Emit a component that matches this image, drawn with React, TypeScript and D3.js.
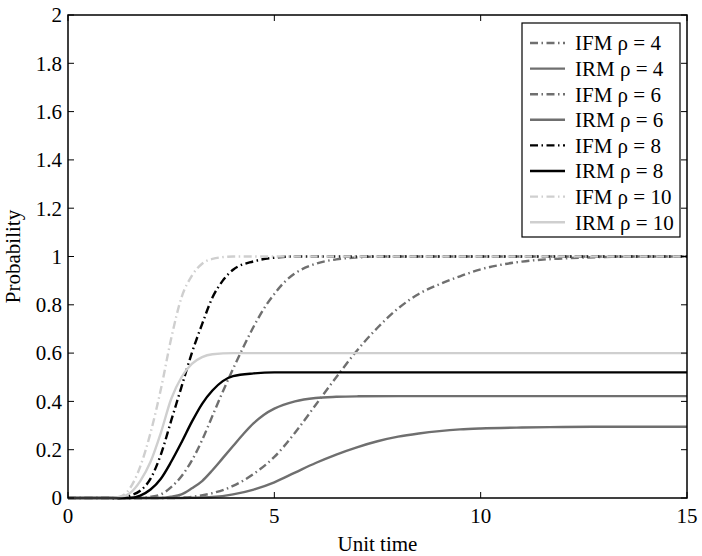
import React from 'react';
import * as d3 from 'd3';

// [unit time, probability]
const ifm4 = [[0,0],[2.5,0],[3,0.005],[3.5,0.02],[4,0.05],[4.5,0.1],[5,0.17],[5.5,0.27],[6,0.385],[6.5,0.5],[7,0.61],[7.5,0.705],[8,0.785],[8.5,0.845],[9,0.885],[9.5,0.918],[10,0.947],[10.5,0.966],[11,0.979],[12,0.992],[13,0.998],[14,1],[15,1]];
const irm4 = [[0,0],[2.5,0],[3,0.001],[3.5,0.004],[4,0.015],[4.5,0.035],[5,0.065],[5.5,0.105],[6,0.145],[6.5,0.18],[7,0.21],[7.5,0.235],[8,0.254],[8.5,0.267],[9,0.277],[9.5,0.284],[10,0.288],[11,0.292],[12,0.294],[13,0.295],[15,0.295]];
const ifm6 = [[0,0],[1.75,0],[2,0.005],[2.25,0.015],[2.5,0.045],[2.75,0.09],[3,0.155],[3.25,0.24],[3.5,0.34],[3.75,0.44],[4,0.535],[4.25,0.625],[4.5,0.71],[4.75,0.785],[5,0.845],[5.25,0.895],[5.5,0.93],[6,0.97],[6.5,0.988],[7,0.996],[7.5,1],[15,1]];
const irm6 = [[0,0],[2.25,0],[2.5,0.005],[2.75,0.015],[3,0.04],[3.25,0.07],[3.5,0.115],[3.75,0.165],[4,0.215],[4.25,0.265],[4.5,0.31],[4.75,0.345],[5,0.37],[5.5,0.4],[6,0.414],[6.5,0.419],[7,0.421],[8,0.422],[15,0.422]];
const ifm8 = [[0,0],[1.25,0],[1.5,0.01],[1.75,0.03],[2,0.08],[2.25,0.18],[2.5,0.32],[2.75,0.46],[3,0.6],[3.25,0.72],[3.5,0.83],[3.75,0.9],[4,0.945],[4.5,0.98],[5,0.995],[5.5,1],[15,1]];
const irm8 = [[0,0],[1.5,0],[1.75,0.01],[2,0.035],[2.25,0.08],[2.5,0.15],[2.75,0.23],[3,0.315],[3.25,0.39],[3.5,0.445],[3.75,0.484],[4,0.505],[4.5,0.516],[5,0.52],[15,0.52]];
const ifm10 = [[0,0],[1,0],[1.25,0.005],[1.5,0.04],[1.75,0.13],[2,0.27],[2.25,0.45],[2.5,0.66],[2.75,0.83],[3,0.92],[3.25,0.97],[3.5,0.99],[4,1],[15,1]];
const irm10 = [[0,0],[1,0],[1.25,0.003],[1.5,0.02],[1.75,0.07],[2,0.15],[2.25,0.27],[2.5,0.41],[2.75,0.5],[3,0.555],[3.25,0.583],[3.5,0.595],[4,0.6],[15,0.6]];

const seriesNames = ['IFM ρ = 4', 'IRM ρ = 4', 'IFM ρ = 6', 'IRM ρ = 6', 'IFM ρ = 8', 'IRM ρ = 8', 'IFM ρ = 10', 'IRM ρ = 10'];
const seriesData = [ifm4, irm4, ifm6, irm6, ifm8, irm8, ifm10, irm10];
const seriesColors = ['#6f6f6f', '#6f6f6f', '#6f6f6f', '#6f6f6f', '#000000', '#000000', '#cfcfcf', '#cfcfcf'];
const seriesDashed = [true, false, true, false, true, false, true, false];

const xTicks = [0, 5, 10, 15];
const yTicks = [0, 0.2, 0.4, 0.6, 0.8, 1, 1.2, 1.4, 1.6, 1.8, 2];

const width = 702;
const height = 556;
const margin = { top: 15, right: 15, bottom: 58, left: 68 };
const font = '"Liberation Serif", serif';
const dashDot = '8 3.5 1.5 3.5';

export default function App() {
  const x = d3.scaleLinear().domain([0, 15]).range([margin.left, width - margin.right]);
  const y = d3.scaleLinear().domain([0, 2]).range([height - margin.bottom, margin.top]);
  const line = d3.line<number[]>().x(d => x(d[0])).y(d => y(d[1])).curve(d3.curveMonotoneX);

  const x0 = x.range()[0], x1 = x.range()[1];
  const y0 = y.range()[0], y1 = y.range()[1];
  const tick = 6;

  // legend box
  const lg = { left: 522, top: 23, w: 158, rowH: 25.6, first: 43 };

  return (
    <svg width={width} height={height} style={{ position: 'absolute', left: 0, top: 0, background: '#fff' }} fontFamily={font}>
      <rect x={0} y={0} width={width} height={height} fill="#fff" />

      {/* curves */}
      <g fill="none">
        {seriesData.map((d, i) => (
          <path key={i} d={line(d) || ''} stroke={seriesColors[i]} strokeWidth={2.4}
            strokeDasharray={seriesDashed[i] ? dashDot : undefined} />
        ))}
      </g>

      {/* ticks on all four sides, pointing inward */}
      <g stroke="#000" strokeWidth={1}>
        {xTicks.map(t => (
          <g key={'x' + t}>
            <line x1={x(t)} x2={x(t)} y1={y0} y2={y0 - tick} />
            <line x1={x(t)} x2={x(t)} y1={y1} y2={y1 + tick} />
          </g>
        ))}
        {yTicks.map(t => (
          <g key={'y' + t}>
            <line x1={x0} x2={x0 + tick} y1={y(t)} y2={y(t)} />
            <line x1={x1} x2={x1 - tick} y1={y(t)} y2={y(t)} />
          </g>
        ))}
      </g>
      <rect x={x0} y={y1} width={x1 - x0} height={y0 - y1} fill="none" stroke="#000" strokeWidth={1.5} />

      {/* tick labels */}
      <g fontSize={21} fill="#000">
        {xTicks.map(t => (
          <text key={'xl' + t} x={x(t)} y={y0 + 25} textAnchor="middle">{t}</text>
        ))}
        {yTicks.map(t => (
          <text key={'yl' + t} x={x0 - 6} y={y(t)} dy="0.35em" textAnchor="end">{d3.format('~g')(t)}</text>
        ))}
      </g>

      {/* axis titles */}
      <text x={(x0 + x1) / 2} y={y0 + 53} textAnchor="middle" fontSize={21}>Unit time</text>
      <text transform={`translate(20,${(y0 + y1) / 2}) rotate(-90)`} textAnchor="middle" fontSize={21}>Probability</text>

      {/* legend */}
      <rect x={lg.left} y={lg.top} width={lg.w} height={214} fill="#fff" stroke="#000" strokeWidth={1.2} />
      {seriesNames.map((name, i) => {
        const cy = lg.first + i * lg.rowH;
        return (
          <g key={name}>
            <line x1={lg.left + 8} x2={lg.left + 43} y1={cy} y2={cy} stroke={seriesColors[i]} strokeWidth={2.4}
              strokeDasharray={seriesDashed[i] ? dashDot : undefined} />
            <text x={lg.left + 53} y={cy} dy="0.35em" fontSize={21}>{name}</text>
          </g>
        );
      })}
    </svg>
  );
}
